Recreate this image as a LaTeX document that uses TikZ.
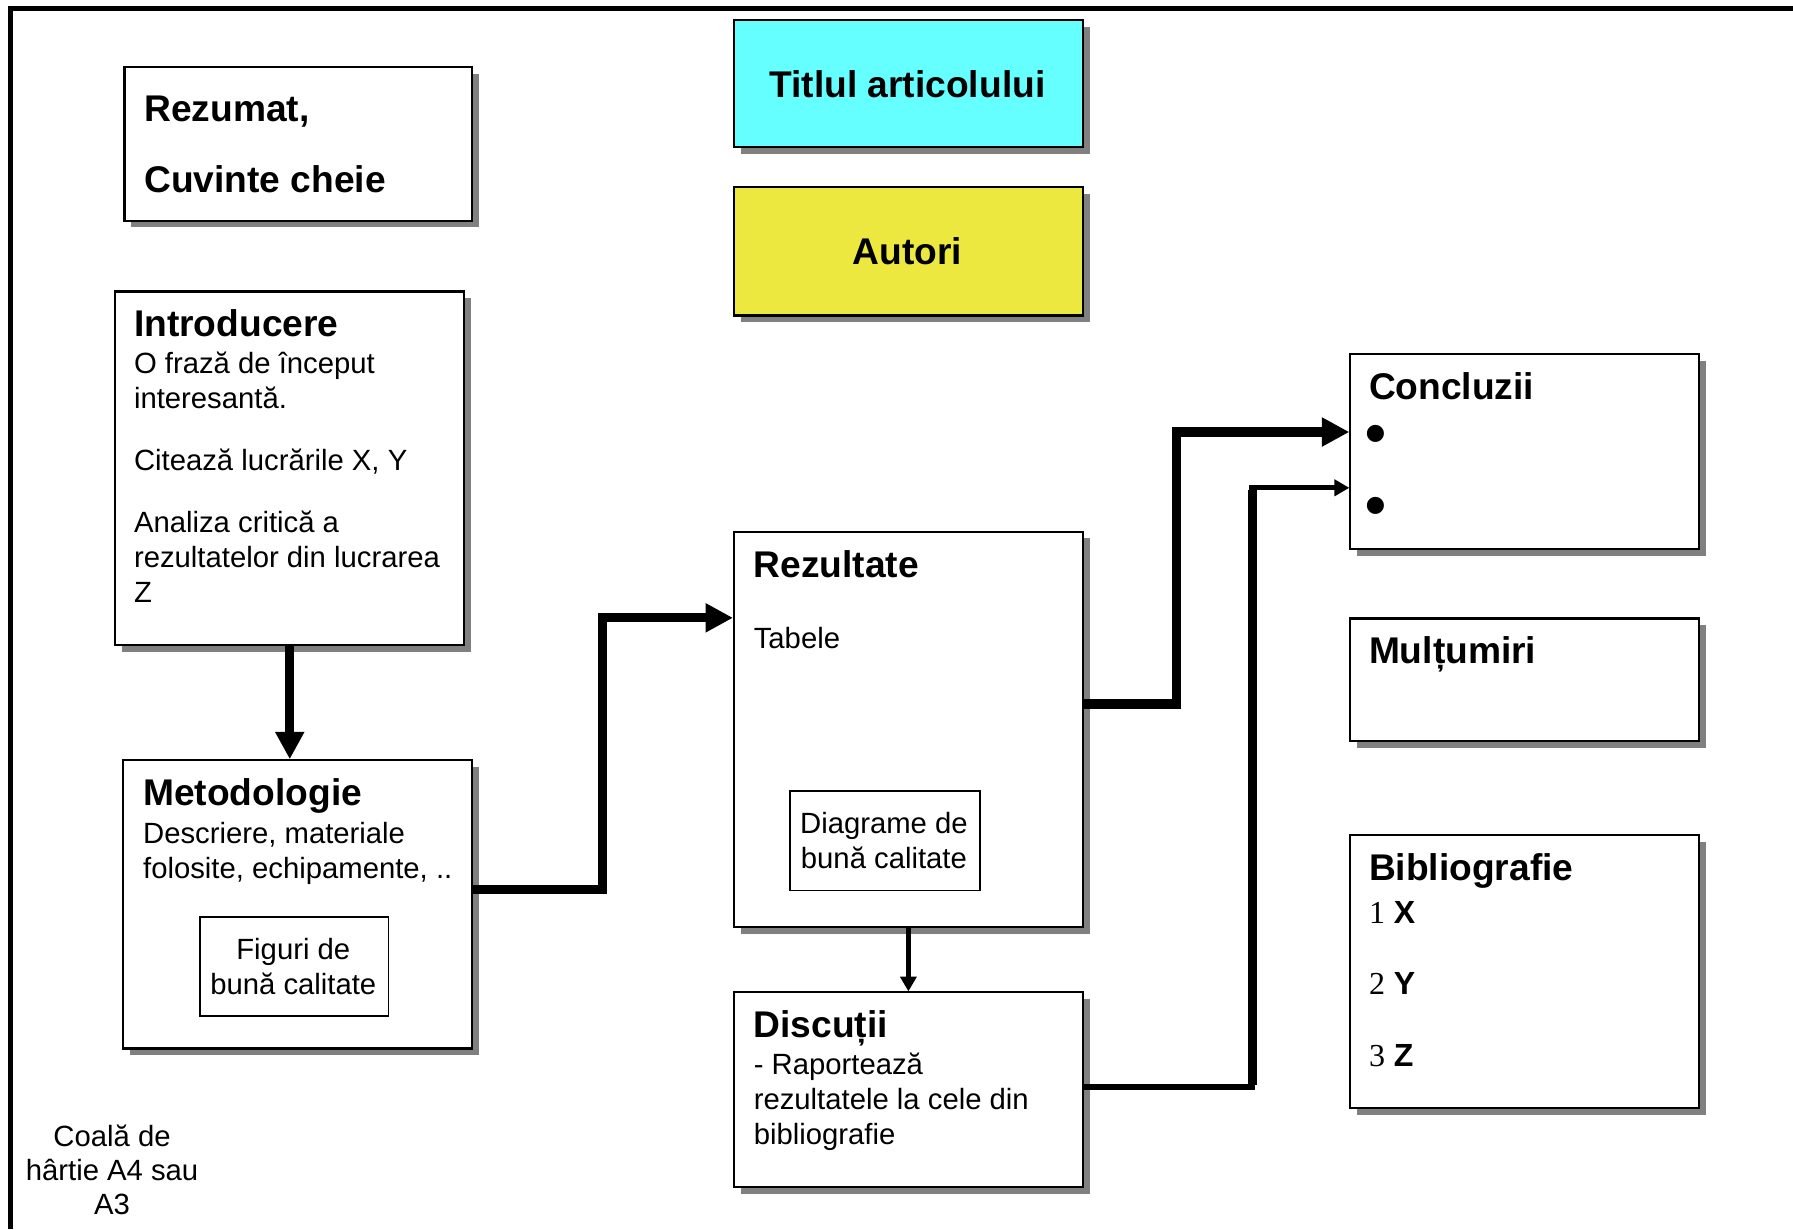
\documentclass[tikz,border=0pt]{standalone}
\usepackage{fontspec}
\setmainfont{Liberation Sans}
\newfontfamily\NumFont{Liberation Serif}
\usetikzlibrary{arrows.meta,shadows}
\definecolor{shgray}{RGB}{128,128,128}
\definecolor{titlecyan}{RGB}{102,255,255}
\definecolor{authyellow}{RGB}{236,232,64}
\newcommand\HeadF{\fontsize{32.5}{39}\selectfont\bfseries}
\newcommand\BulF{\fontsize{52}{60}\selectfont\bfseries}
\newcommand\BodyF{\fontsize{25.6}{30.6}\selectfont}
\newcommand\BibF{\fontsize{28}{34}\selectfont}
\tikzset{
  box/.style={draw=black, line width=1.8pt, fill=white, rectangle, inner sep=0pt, anchor=north west,
    general shadow={fill=shgray, shadow xshift=6pt, shadow yshift=-6pt}},
  innerbox/.style={draw=black, line width=1.5pt, fill=white, rectangle, inner sep=0pt, anchor=north west},
  txt/.style={anchor=base west, inner sep=0pt},
  ctxt/.style={anchor=base, inner sep=0pt},
  bigarrow/.style={line width=8pt, line join=miter, -{Triangle[length=24pt,width=24pt]}},
  smallarrow/.style={line width=4.5pt, line join=miter, -{Triangle[length=13pt,width=14pt]}},
}
\begin{document}
\begin{tikzpicture}[x=1pt,y=-1pt]
\useasboundingbox (0,0) rectangle (1568,1075);
% sheet outline
\draw[line width=4.4pt] (9.5,1075) -- (9.5,7.5) -- (1568,7.5);

% boxes
\node[box, minimum width=304pt, minimum height=134pt] (rez) at (108,58) {};
\node[box, fill=titlecyan, minimum width=305pt, minimum height=111pt] (title) at (641,17) {};
\node[box, fill=authyellow, minimum width=305pt, minimum height=112pt] (auth) at (641,163) {};
\node[box, minimum width=305pt, minimum height=309pt] (intro) at (100,254) {};
\node[box, minimum width=305pt, minimum height=252pt] (metod) at (107,664) {};
\node[innerbox, minimum width=165pt, minimum height=87pt] (fig) at (174,801) {};
\node[box, minimum width=305pt, minimum height=346pt] (rezult) at (641,464) {};
\node[innerbox, minimum width=166pt, minimum height=87pt] (diag) at (690,691) {};
\node[box, minimum width=305pt, minimum height=170pt] (disc) at (641,867) {};
\node[box, minimum width=305pt, minimum height=170pt] (concl) at (1180,309) {};
\node[box, minimum width=305pt, minimum height=107pt] (mult) at (1180,540) {};
\node[box, minimum width=305pt, minimum height=239pt] (bib) at (1180,729) {};

% texts
\node[txt] (rezA) at (126,106) {\HeadF Rezumat,};
\node[txt] (rezB) at (126,168.5) {\HeadF Cuvinte cheie};

\node[ctxt] (titleT) at (793.5,85) {\HeadF Titlul articolului};
\node[ctxt] (authT) at (793.5,231) {\HeadF Autori};

\node[txt] (introH) at (117,294.6) {\HeadF Introducere};
\node[txt] (introA) at (117,327) {\BodyF O frază de început};
\node[txt] (introB) at (117,357.5) {\BodyF interesantă.};
\node[txt] (introC) at (117,411.5) {\BodyF Citează lucrările X, Y};
\node[txt] (introD) at (117,465.5) {\BodyF Analiza critică a};
\node[txt] (introE) at (117,496) {\BodyF rezultatelor din lucrarea};
\node[txt] (introF) at (117,527) {\BodyF Z};

\node[txt] (metodH) at (125,704.6) {\HeadF Metodologie};
\node[txt] (metodA) at (125,737.5) {\BodyF Descriere, materiale};
\node[txt] (metodB) at (125,768) {\BodyF folosite, echipamente, ..};
\node[ctxt] (figA) at (256.5,839) {\BodyF Figuri de};
\node[ctxt] (figB) at (256.5,869.3) {\BodyF bună calitate};

\node[txt] (rezultH) at (659,504.6) {\HeadF Rezultate};
\node[txt] (rezultA) at (659,567) {\BodyF Tabele};
\node[ctxt] (diagA) at (773,729) {\BodyF Diagrame de};
\node[ctxt] (diagB) at (773,759.4) {\BodyF bună calitate};

\node[txt] (discH) at (659,907.5) {\HeadF Discuții};
\node[txt] (discA) at (659,939.5) {\BodyF - Raportează};
\node[txt] (discB) at (659,970.5) {\BodyF rezultatele la cele din};
\node[txt] (discC) at (659,1001) {\BodyF bibliografie};

\node[txt] (conclH) at (1197,349.6) {\HeadF Concluzii};
\node[ctxt] (bulA) at (1203,397) {\BulF •};
\node[ctxt] (bulB) at (1203,459.6) {\BulF •};

\node[txt] (multH) at (1197,580.6) {\HeadF Mulțumiri};

\node[txt] (bibH) at (1197,769.6) {\HeadF Bibliografie};
\node[txt] (bibA) at (1197,807.5) {\BibF{\NumFont 1} \bfseries X};
\node[txt] (bibB) at (1197,870) {\BibF{\NumFont 2} \bfseries Y};
\node[txt] (bibC) at (1197,932.8) {\BibF{\NumFont 3} \bfseries Z};

\node[ctxt] (sheetA) at (98,1002.8) {\BodyF Coală de};
\node[ctxt] (sheetB) at (98,1032.5) {\BodyF hârtie A4 sau};
\node[ctxt] (sheetC) at (98,1062.5) {\BodyF A3};

% connectors
\coordinate (b1) at (527.2,540.3);
\coordinate (b2) at (1028.8,377.8);
\coordinate (b3) at (1094.9,426.6);
\draw[bigarrow] (intro.south) -- (intro.south |- metod.north);
\draw[bigarrow] (metod.east |- 0,778) -| (b1) -- (rezult.west |- b1);
\draw[bigarrow] (rezult.east |- 0,615.7) -| (b2) -- (concl.west |- b2);
\draw[smallarrow] (rezult.south) -- (disc.north);
\draw[smallarrow] (disc.east |- 0,950.6) -| (b3) -- (concl.west |- b3);
\draw[line width=7.9pt] ([yshift=2.2pt]b3 |- disc.east |- 0,950.6) -- ([yshift=-2.2pt]b3);
\end{tikzpicture}
\end{document}
